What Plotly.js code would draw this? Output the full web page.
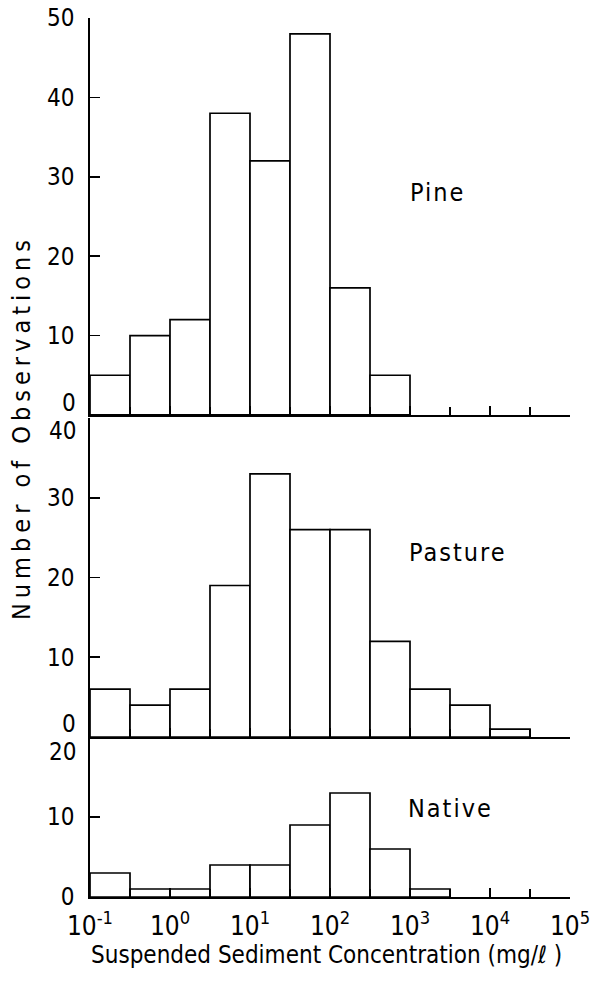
<!DOCTYPE html>
<html><head><meta charset="utf-8">
<script src="https://cdn.plot.ly/plotly-3.0.1.min.js"></script>
<style>body{margin:0;background:#fff}</style>
</head><body><div id="chart" style="width:592px;height:983px"></div>
<script>
// Bin lower edges, as log10 of concentration (mg/l); each bin spans half a decade
const binLowerExp = [-1, -0.5, 0, 0.5, 1, 1.5, 2, 2.5, 3, 3.5, 4, 4.5];
const binWidthExp = 0.5;
const pineCounts = [5, 10, 12, 38, 32, 48, 16, 5];
const pastureCounts = [6, 4, 6, 19, 33, 26, 26, 12, 6, 4, 1];
const nativeCounts = [3, 1, 1, 4, 4, 9, 13, 6, 1];
const xTickExp = [-1, 0, 1, 2, 3, 4, 5];
const xTickLabels = ['10<sup>-1</sup>', '10<sup>0</sup>', '10<sup>1</sup>', '10<sup>2</sup>', '10<sup>3</sup>', '10<sup>4</sup>', '10<sup>5</sup>'];
const pineTicks = [10, 20, 30, 40, 50];
const pastureTicks = [10, 20, 30];
const nativeTicks = [0, 10];
const panelNames = ['Pine', 'Pasture', 'Native'];

const FONT = '"DejaVu Sans Condensed", "DejaVu Sans", sans-serif';
const centers = n => binLowerExp.slice(0, n).map(e => e + binWidthExp / 2);

function barTrace(counts, xa, ya) {
  return {
    type: 'bar', x: centers(counts.length), y: counts, width: binWidthExp,
    xaxis: xa, yaxis: ya,
    marker: {color: '#ffffff', line: {color: '#000', width: 1.7}},
    hoverinfo: 'x+y', showlegend: false
  };
}

const data = [
  barTrace(pineCounts, 'x', 'y'),
  barTrace(pastureCounts, 'x2', 'y2'),
  barTrace(nativeCounts, 'x3', 'y3')
];

function xAxis(anchor, labels) {
  return {
    anchor: anchor, range: [-1, 5], type: 'linear',
    showgrid: false, zeroline: false, showline: true, linecolor: '#000', linewidth: 1.7,
    ticks: 'inside', ticklen: 9, tickwidth: 1.7, tickcolor: '#000',
    tickmode: 'array', tickvals: xTickExp, ticktext: xTickLabels,
    showticklabels: labels,
    tickfont: {family: FONT, size: 26, color: '#000'},
    ticklabelstandoff: 5,
    minor: {dtick: 0.5, ticks: 'inside', ticklen: 8, tickwidth: 1.7, tickcolor: '#000', showgrid: false},
    fixedrange: true
  };
}
function yAxis(domain, range, ticks, anchor) {
  return {
    domain: domain, range: range, anchor: anchor,
    showgrid: false, zeroline: false, showline: true, linecolor: '#000', linewidth: 1.7,
    ticks: 'inside', ticklen: 10, tickwidth: 1.7, tickcolor: '#000',
    tickmode: 'array', tickvals: ticks,
    tickfont: {family: FONT, size: 24, color: '#000'},
    ticklabelstandoff: 9,
    fixedrange: true
  };
}

const endLabel = (txt, yref, y, shift) => ({
  text: txt, xref: 'paper', x: 0, xanchor: 'right', xshift: -12,
  yref: yref, y: y, yanchor: 'middle', yshift: shift, showarrow: false,
  font: {family: FONT, size: 24, color: '#000'}
});
const panelLabel = (txt, xref, yref, x, y) => ({
  text: txt, xref: xref, yref: yref, x: x, y: y, xanchor: 'center', yanchor: 'middle',
  showarrow: false, font: {family: FONT, size: 25, color: '#000'}
});

const layout = {
  width: 592, height: 983,
  margin: {l: 90, r: 22, t: 18, b: 86},
  paper_bgcolor: '#fff', plot_bgcolor: '#fff',
  bargap: 0,
  xaxis: xAxis('y', false),
  xaxis2: xAxis('y2', false),
  xaxis3: xAxis('y3', true),
  yaxis: yAxis([0.5484, 1], [0, 50], pineTicks, 'x'),
  yaxis2: yAxis([0.182, 0.5449], [0, 40], pastureTicks, 'x2'),
  yaxis3: yAxis([0, 0.182], [0, 20], nativeTicks, 'x3'),
  annotations: [
    endLabel('0', 'y', 0, 12),
    endLabel('40', 'y2', 40, -13),
    endLabel('0', 'y2', 0, 13),
    endLabel('20', 'y3', 20, -15),
    panelLabel(panelNames[0], 'x', 'y', 3.34, 28),
    panelLabel(panelNames[1], 'x2', 'y2', 3.6, 23.2),
    panelLabel(panelNames[2], 'x3', 'y3', 3.5, 11.1),
    {text: 'Number of Observations', xref: 'paper', yref: 'paper', x: -0.1417, y: 0.5347,
     xanchor: 'center', yanchor: 'middle', textangle: -90, showarrow: false,
     font: {family: FONT, size: 25, color: '#000'}},
    {text: 'Suspended Sediment Concentration (mg/ℓ )', xref: 'paper', yref: 'paper', x: 0.4917, y: -0.066,
     xanchor: 'center', yanchor: 'middle', showarrow: false,
     font: {family: FONT, size: 24, color: '#000'}}
  ]
};

Plotly.newPlot('chart', data, layout, {displayModeBar: false, staticPlot: true}).then(() => {
  document.querySelectorAll('.annotation-text').forEach(t => {
    const s = t.textContent;
    if (s === 'Number of Observations') t.style.letterSpacing = '5px';
    else if (panelNames.includes(s)) t.style.letterSpacing = '2px';
  });
});
</script></body></html>
